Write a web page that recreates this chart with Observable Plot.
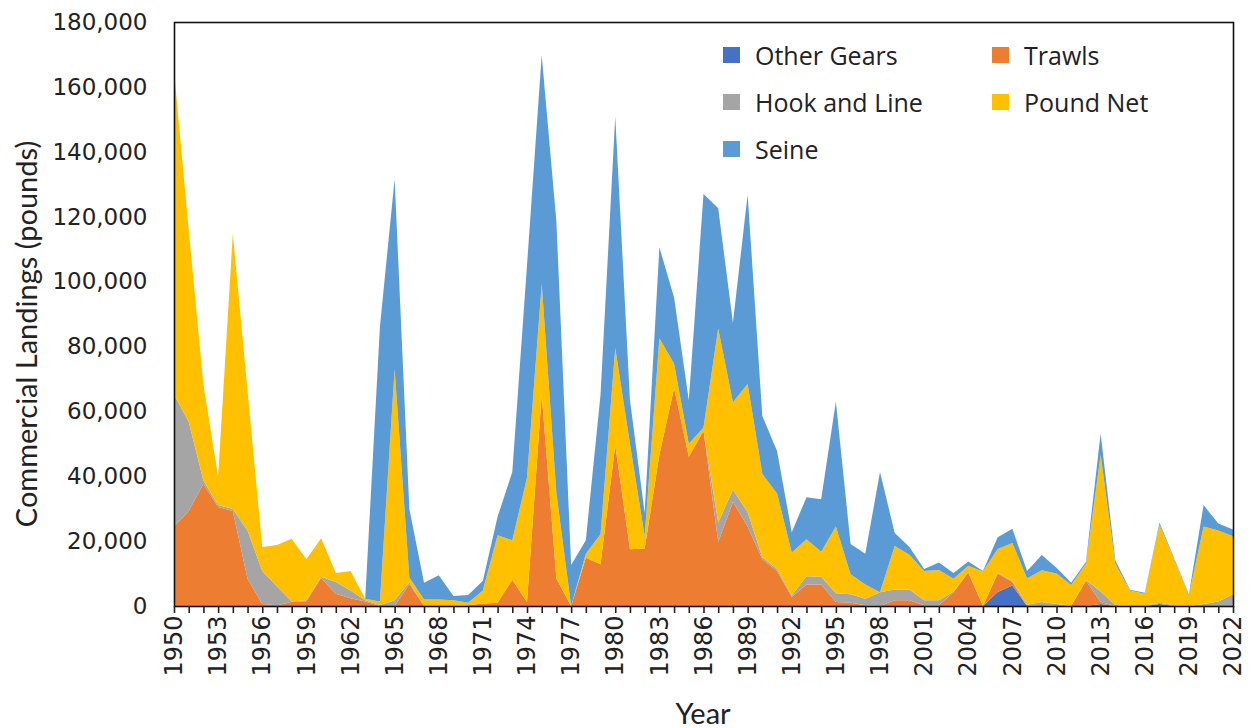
<!DOCTYPE html>
<html>
<head>
<meta charset="utf-8">
<script src="https://cdn.jsdelivr.net/npm/d3@7"></script>
<script src="https://cdn.jsdelivr.net/npm/@observablehq/plot@0.6"></script>
<style>
  html, body { margin: 0; padding: 0; background: #fff; }
  #wrap { position: relative; width: 1255px; height: 728px; overflow: hidden; }
  #chart { position: absolute; left: 0; top: 0; }
  .ytitle { position: absolute; left: 25px; top: 334px; transform: translate(-50%, -50%) rotate(-90deg);
            font-family: Lato, sans-serif; font-size: 29px; line-height: 1; color: #222; white-space: nowrap; }
  .xtitle { position: absolute; left: 703px; top: 712px; transform: translate(-50%, -50%);
            font-family: Lato, sans-serif; font-size: 29px; line-height: 1; color: #222; white-space: nowrap; }
  #legend { position: absolute; left: 723px; top: 31px; display: grid;
            grid-template-columns: 269px 200px; grid-auto-rows: 47px;
            font-family: "Open Sans", sans-serif; font-size: 25px; color: #222; }
  .item { display: flex; align-items: center; white-space: nowrap; }
  .sw { width: 17px; height: 16px; margin-right: 15px; flex: none; }
</style>
</head>
<body>
<div id="wrap">
  <div id="chart"></div>
  <div class="ytitle">Commercial Landings (pounds)</div>
  <div class="xtitle">Year</div>
  <div id="legend"></div>
</div>
<script>
const years = d3.range(1950, 2023);
const labelYears = d3.range(1950, 2023, 3);
const yTicks = d3.range(0, 180001, 20000);
const seriesNames = ["Other Gears", "Trawls", "Hook and Line", "Pound Net", "Seine"];
const seriesColors = ["#4472C4", "#ED7D31", "#A5A5A5", "#FFC000", "#5B9BD5"];
const legendOrder = ["Other Gears", "Trawls", "Hook and Line", "Pound Net", "Seine"];

const otherGears = [
  0,0,0,0,0,0,0,0,0,0,
  0,0,0,0,0,0,0,0,0,0,
  0,0,0,0,0,0,0,0,0,0,
  0,0,0,0,0,0,0,0,0,0,
  0,0,0,0,0,0,0,0,0,0,
  0,0,0,0,0,0,4300,6300,0,0,
  0,0,0,600,0,0,0,600,0,0,
  0,0,0
];
const trawls = [
  24500,29300,37700,30500,29300,8400,600,200,1200,1500,
  8600,3800,2400,1400,0,0,6800,0,0,0,
  200,800,1000,8100,1200,65200,8400,0,14900,12900,
  49600,17500,17700,46600,67200,46000,54000,19700,32100,24500,
  14400,10800,2800,6600,6600,1200,1000,200,0,1800,
  1800,200,200,4200,10300,0,5700,1100,0,300,
  0,0,7800,600,0,0,0,0,0,0,
  0,0,0
];
const hookAndLine = [
  40700,27500,1000,600,600,14900,10200,5800,200,300,
  400,3600,2400,400,300,1800,500,0,0,0,
  0,0,0,0,0,0,0,0,0,0,
  0,0,0,0,0,0,0,6000,3800,4400,
  600,600,400,2600,2400,2700,2600,2000,4200,3300,
  3300,1600,1600,300,100,0,200,300,400,900,
  600,0,200,3300,300,0,0,400,200,0,
  600,1400,3600
];
const poundNet = [
  99800,59200,29500,8900,84900,43100,7400,12800,19300,12600,
  11900,2800,6000,400,1100,71200,1500,2000,2000,1800,
  800,4000,20800,12200,38300,34100,26300,0,1200,9200,
  29900,32500,3800,35900,7500,4000,1000,59800,26900,39500,
  25700,23300,13300,11400,7700,20600,6200,4400,0,13400,
  10700,9000,9300,3900,2000,10600,7400,11700,8100,9800,
  9400,6500,5000,42100,12700,4800,3800,24100,14200,3300,
  23900,21900,17900
];
const seine = [
  0,0,0,0,0,0,0,0,0,0,
  0,0,0,0,84700,58600,21200,5200,7500,1300,
  2400,3000,5700,21000,65500,70500,83700,12600,4200,43100,
  71400,13500,7200,28100,20400,13400,72000,37100,24500,58400,
  17900,13100,6200,12900,16200,38500,9300,9500,37100,4000,
  2400,600,2300,1800,1300,200,3600,4400,2300,4700,
  1800,700,600,6600,1000,200,300,600,300,300,
  6600,2100,2100
];

const seriesValues = [otherGears, trawls, hookAndLine, poundNet, seine];
const data = [];
seriesNames.forEach((name, i) => {
  years.forEach((yr, j) => data.push({year: yr, series: name, value: seriesValues[i][j]}));
});

const chart = Plot.plot({
  width: 1255,
  height: 728,
  marginLeft: 174,
  marginRight: 22,
  marginTop: 22,
  marginBottom: 122,
  style: {fontFamily: "'DejaVu Sans', sans-serif", color: "#222", background: "#fff"},
  x: {domain: [1950, 2022]},
  y: {domain: [0, 180000]},
  color: {domain: seriesNames, range: seriesColors},
  marks: [
    Plot.areaY(data, {x: "year", y: "value", fill: "series", z: "series", order: seriesNames}),
    Plot.frame({stroke: "#111", strokeWidth: 1.6}),
    Plot.axisY({ticks: yTicks, tickFormat: d3.format(","), tickSize: 0, tickPadding: 27, label: null, fontSize: 23}),
    Plot.axisX({ticks: years, tickSize: 7, tickFormat: () => "", label: null, strokeWidth: 1.6}),
    Plot.axisX({ticks: labelYears, tickSize: 0, tickPadding: 9, tickRotate: -90, tickFormat: d => String(d), label: null, fontSize: 24})
  ]
});
document.getElementById("chart").appendChild(chart);

const legend = document.getElementById("legend");
legendOrder.forEach(name => {
  const it = document.createElement("div");
  it.className = "item";
  const sw = document.createElement("span");
  sw.className = "sw";
  sw.style.background = seriesColors[seriesNames.indexOf(name)];
  const tx = document.createElement("span");
  tx.textContent = name;
  it.appendChild(sw);
  it.appendChild(tx);
  legend.appendChild(it);
});
</script>
</body>
</html>
